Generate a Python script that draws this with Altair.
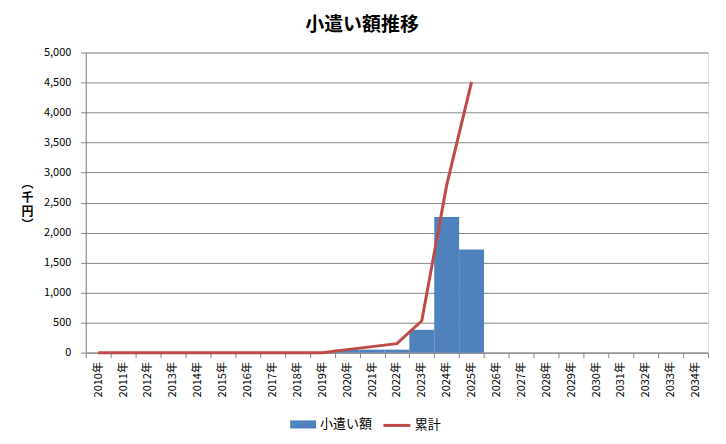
import altair as alt
import pandas as pd

years = ["2010年", "2011年", "2012年", "2013年", "2014年", "2015年", "2016年",
         "2017年", "2018年", "2019年", "2020年", "2021年", "2022年", "2023年",
         "2024年", "2025年", "2026年", "2027年", "2028年", "2029年", "2030年",
         "2031年", "2032年", "2033年", "2034年"]
bar_years = ["2020年", "2021年", "2022年", "2023年", "2024年", "2025年"]
allowance = [50, 50, 50, 380, 2260, 1720]
line_years = ["2010年", "2011年", "2012年", "2013年", "2014年", "2015年", "2016年",
              "2017年", "2018年", "2019年", "2020年", "2021年", "2022年", "2023年",
              "2024年", "2025年"]
cumulative = [0, 0, 0, 0, 0, 0, 0, 0, 0, 0, 50, 100, 150, 530, 2790, 4510]
y_ticks = [0, 500, 1000, 1500, 2000, 2500, 3000, 3500, 4000, 4500, 5000]

bars_df = pd.DataFrame({"year": bar_years, "value": allowance})
line_df = pd.DataFrame({"year": line_years, "value": cumulative})

FONT = "Noto Sans CJK JP"
GRID = "#868686"

x_enc = alt.X(
    "year:N",
    scale=alt.Scale(domain=years, paddingInner=0, paddingOuter=0),
    axis=alt.Axis(
        title=None, tickBand="extent", tickSize=5, tickColor=GRID,
        domainColor=GRID, labelAngle=-90, labelPadding=4, labelFontSize=11,
        labelColor="black", labelFont=FONT, grid=False,
    ),
)
y_enc = alt.Y(
    "value:Q",
    scale=alt.Scale(domain=[0, 5000], nice=False),
    axis=alt.Axis(
        title=["︵", "千", "円", "︶"], titleAngle=0, titleX=-59, titleY=131,
        titleAlign="center", titleBaseline="middle", titleFontSize=12,
        titleLineHeight=14, titleFont=FONT, titleFontWeight="bold",
        titleColor="black",
        values=y_ticks, format=",.0f", labelFontSize=11, labelFont=FONT,
        labelColor="black", labelPadding=10, tickSize=5, tickColor=GRID,
        domainColor=GRID, gridColor=GRID, gridWidth=1,
    ),
)

bars = alt.Chart(bars_df).mark_bar().encode(
    x=x_enc,
    y=y_enc,
    fill=alt.Fill(
        "lbl:N",
        scale=alt.Scale(domain=["小遣い額"], range=["#4F81BD"]),
        legend=alt.Legend(
            title=None, orient="none", legendX=204, legendY=359,
            symbolType="M-1,-0.31L1,-0.31L1,0.31L-1,0.31Z", symbolSize=676,
            labelFont=FONT, labelFontSize=13, labelColor="black",
            labelOffset=3, padding=0,
        ),
    ),
).transform_calculate(lbl="'小遣い額'")

line = alt.Chart(line_df).mark_line(strokeWidth=3).encode(
    x=x_enc,
    y=y_enc,
    stroke=alt.Stroke(
        "lbl:N",
        scale=alt.Scale(domain=["累計"], range=["#BE4B48"]),
        legend=alt.Legend(
            title=None, orient="none", legendX=297, legendY=359,
            symbolType="stroke", symbolSize=729, symbolStrokeWidth=3,
            labelFont=FONT, labelFontSize=13, labelColor="black",
            labelOffset=3, padding=0,
        ),
    ),
).transform_calculate(lbl="'累計'")

chart = alt.layer(bars, line).properties(
    width=624,
    height=301,
    autosize=alt.AutoSizeParams(type="none"),
    padding={"left": 78, "top": 44, "right": 10, "bottom": 84},
    title=alt.TitleParams(
        "小遣い額推移", font=FONT, fontSize=19, fontWeight="bold",
        color="black", anchor="middle", dx=-35, offset=12,
    ),
).configure_view(strokeWidth=0).configure(background="white")

chart.save("out.html", embed_options={"renderer": "svg", "actions": False})
